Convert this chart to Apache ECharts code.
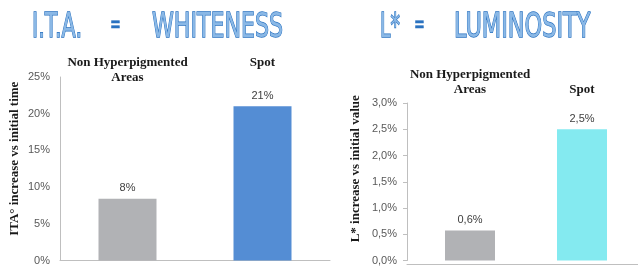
<!DOCTYPE html>
<html>

<head>
  <title>ITA / L*</title>
  <script src="https://cdn.jsdelivr.net/npm/echarts@6/dist/echarts.min.js"></script>
  <style>
    html, body { margin: 0; padding: 0; background: #fff; }
    #main { width: 638px; height: 266px; }
  </style>
</head>

<body>
  <div id="main"></div>
  <script>
    // data
    var categories = ['Non Hyperpigmented\nAreas', 'Spot'];
    var itaValues = [8.4, 21.0];   // % increase vs initial time
    var lumValues = [0.57, 2.5];   // % increase vs initial value
    var itaTicks = { min: 0, max: 25, step: 5 };
    var lumTicks = { min: 0, max: 3, step: 0.5 };

    var itaColors = ['#b1b2b5', '#548dd4'];
    var lumColors = ['#b1b2b5', '#84eaf0'];

    function pctComma(v, digits) {
      return v.toFixed(digits).replace('.', ',') + '%';
    }

    var serif = '"Liberation Serif", "DejaVu Serif", serif';
    var sans = '"Liberation Sans", Arial, sans-serif';

    // outlined condensed title pieces
    function titleText(text, x, sx, opts) {
      opts = opts || {};
      return {
        type: 'text',
        x: x, y: opts.y || 25,
        scaleX: sx,
        style: {
          text: text,
          font: (opts.size || 33) + 'px "DejaVu Sans"',
          fill: opts.fill || '#8ab8e6',
          stroke: '#2a72c0',
          lineWidth: opts.lw || 1.4,
          textAlign: 'left',
          textVerticalAlign: 'middle'
        }
      };
    }

    var myChart = echarts.init(document.getElementById('main'));

    var option = {
      animation: false,
      graphic: [
        titleText('I.T.A.', 32, 0.63, { y: 28 }),
        titleText('=', 110, 0.5, { y: 26, size: 26, fill: '#2a72c0', lw: 0.6 }),
        titleText('WHITENESS', 152, 0.67, { y: 28 }),
        titleText('L*', 380, 0.57, { y: 28 }),
        titleText('=', 414, 0.5, { y: 26, size: 26, fill: '#2a72c0', lw: 0.6 }),
        titleText('LUMINOSITY', 454, 0.68, { y: 28 })
      ],
      grid: [
        { left: 60, top: 77, width: 270, bottom: 2 },
        { left: 414, top: 103, width: 232, bottom: 1.5 },
        // only draws the base line of the right chart from its value axis
        { left: 407, top: 103, right: 0, bottom: 1.5 }
      ],
      xAxis: [
        // bottom axes carry the bars and the base line
        {
          type: 'category', gridIndex: 0, data: categories, position: 'bottom',
          axisLine: { lineStyle: { color: '#bfbfbf' } },
          axisTick: { show: false }, axisLabel: { show: false }
        },
        {
          type: 'category', gridIndex: 1, data: categories, position: 'bottom',
          axisLine: { show: false },
          axisTick: { show: false }, axisLabel: { show: false }
        },
        // top axes only hold the category names
        {
          type: 'category', gridIndex: 0, data: categories, position: 'top',
          axisLine: { show: false }, axisTick: { show: false },
          axisLabel: {
            interval: 0, margin: 22, verticalAlign: 'top', lineHeight: 15,
            fontFamily: serif, fontWeight: 'bold', fontSize: 13, color: '#1a1a1a'
          }
        },
        {
          type: 'category', gridIndex: 1, data: categories, position: 'top',
          axisLine: { show: false }, axisTick: { show: false },
          axisLabel: {
            interval: 0, margin: 6, verticalAlign: 'bottom', lineHeight: 15,
            fontFamily: serif, fontWeight: 'bold', fontSize: 13, color: '#1a1a1a'
          }
        },
        {
          type: 'value', gridIndex: 2, position: 'bottom',
          axisLine: { show: true, lineStyle: { color: '#bfbfbf' } },
          axisTick: { show: false }, axisLabel: { show: false }, splitLine: { show: false }
        }
      ],
      yAxis: [
        {
          type: 'value', gridIndex: 0,
          min: itaTicks.min, max: itaTicks.max, interval: itaTicks.step,
          name: 'ITA° increase vs initial time',
          nameLocation: 'middle', nameGap: 39,
          nameTextStyle: { fontFamily: serif, fontWeight: 'bold', fontSize: 13, color: '#1a1a1a', padding: [0, 0, 0, 20] },
          axisLine: { show: true, lineStyle: { color: '#bfbfbf' } },
          axisTick: { show: false },
          splitLine: { show: false },
          axisLabel: {
            margin: 10, fontFamily: sans, fontSize: 11, color: '#595959',
            formatter: function (v) { return v + '%'; }
          }
        },
        {
          type: 'value', gridIndex: 1, offset: 7,
          min: lumTicks.min, max: lumTicks.max, interval: lumTicks.step,
          name: 'L* increase vs initial value',
          nameLocation: 'middle', nameGap: 45,
          nameTextStyle: { fontFamily: serif, fontWeight: 'bold', fontSize: 13, color: '#1a1a1a', padding: [0, 0, 0, 26] },
          axisLine: { show: true, lineStyle: { color: '#bfbfbf' } },
          axisTick: { show: true, length: 4, lineStyle: { color: '#bfbfbf' } },
          splitLine: { show: false },
          axisLabel: {
            margin: 10, fontFamily: sans, fontSize: 11, color: '#595959',
            formatter: function (v) { return pctComma(v, 1); }
          }
        },
        { type: 'value', gridIndex: 2, show: false }
      ],
      series: [
        {
          type: 'bar', xAxisIndex: 0, yAxisIndex: 0, barWidth: 58,
          data: itaValues.map(function (v, i) {
            return { value: v, itemStyle: { color: itaColors[i] } };
          }),
          label: {
            show: true, position: 'top', distance: 5,
            fontFamily: sans, fontSize: 11, color: '#404040',
            formatter: function (p) { return Math.round(p.value) + '%'; }
          }
        },
        {
          type: 'bar', xAxisIndex: 1, yAxisIndex: 1, barWidth: 50,
          data: lumValues.map(function (v, i) {
            return { value: v, itemStyle: { color: lumColors[i] } };
          }),
          label: {
            show: true, position: 'top', distance: 5,
            fontFamily: sans, fontSize: 11, color: '#404040',
            formatter: function (p) { return pctComma(p.value, 1); }
          }
        }
      ]
    };

    myChart.setOption(option);
  </script>
</body>

</html>
